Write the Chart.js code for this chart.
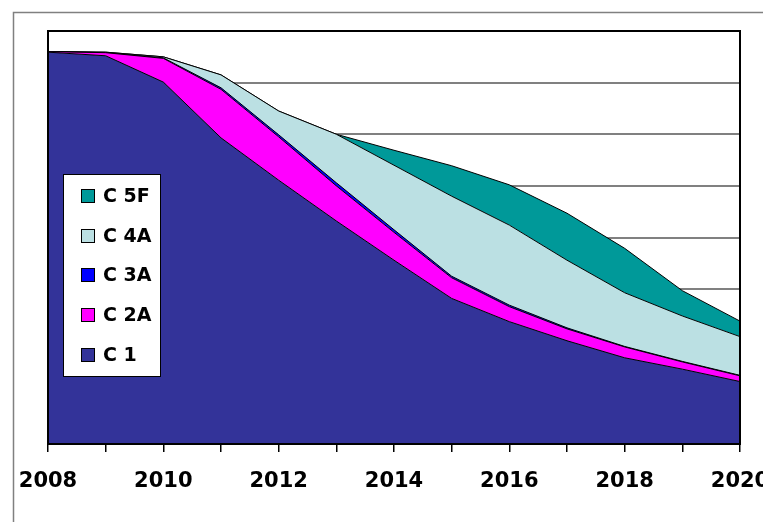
<!DOCTYPE html>
<html>
<head>
<meta charset="utf-8">
<script src="https://cdn.jsdelivr.net/npm/chart.js@4"></script>
<style>
  body { margin: 0; background: #fff; overflow: hidden; }
</style>
</head>
<body>
<canvas id="area" width="763" height="522"></canvas>
<script>
var years = ['2008', '2009', '2010', '2011', '2012', '2013', '2014', '2015', '2016', '2017', '2018', '2019', '2020'];

var c1  = [75.9, 75.2, 70.1, 59.3, 51.1, 43.2, 35.6, 28.2, 23.7, 20.0, 16.7, 14.5, 12.1];
var c2a = [0.1, 0.6, 4.6, 9.4, 8.4, 6.8, 5.4, 4.0, 2.9, 2.3, 2.1, 1.4, 1.1];
var c3a = [0.0, 0.0, 0.1, 0.3, 0.4, 0.6, 0.5, 0.3, 0.3, 0.2, 0.1, 0.1, 0.1];
var c4a = [0.0, 0.1, 0.2, 2.5, 4.6, 9.4, 12.5, 15.5, 15.5, 13.1, 10.4, 8.8, 7.5];
var c5f = [0.0, 0.0, 0.0, 0.0, 0.0, 0.0, 2.9, 5.9, 7.8, 9.1, 8.6, 4.9, 3.0];

var seriesNames = ['C 1', 'C 2A', 'C 3A', 'C 4A', 'C 5F'];
var seriesColors = ['#333399', '#ff00ff', '#0000ff', '#bbe0e3', '#009999'];
var seriesData = [c1, c2a, c3a, c4a, c5f];

var datasets = seriesData.map(function (d, i) {
    return {
        label: seriesNames[i],
        data: d,
        backgroundColor: seriesColors[i],
        borderColor: '#000',
        borderWidth: 1,
        pointRadius: 0,
        tension: 0,
        fill: i === 0 ? 'origin' : '-1'
    };
});

// grey outer frame of the chart object
var frame = {
    id: 'frame',
    beforeDraw: function (chart) {
        var ctx = chart.ctx;
        ctx.save();
        ctx.strokeStyle = '#808080';
        ctx.lineWidth = 1.5;
        ctx.strokeRect(13.5, 12.5, 900, 900);
        ctx.restore();
    },
    afterDatasetsDraw: function (chart) {
        var a = chart.chartArea, ctx = chart.ctx;
        ctx.save();
        ctx.strokeStyle = '#000';
        ctx.lineWidth = 2;
        ctx.strokeRect(a.left, a.top, a.right - a.left, a.bottom - a.top);
        ctx.restore();
    }
};

// legend box inside the plot
var boxLegend = {
    id: 'boxLegend',
    afterDraw: function (chart) {
        var ctx = chart.ctx;
        var ds = chart.data.datasets;
        ctx.save();
        ctx.fillStyle = '#fff';
        ctx.fillRect(63.5, 174.5, 97, 202);
        ctx.strokeStyle = '#000';
        ctx.lineWidth = 1;
        ctx.strokeRect(63.5, 174.5, 97, 202);
        ctx.font = 'bold 19px "DejaVu Sans"';
        ctx.textBaseline = 'middle';
        for (var k = 0; k < ds.length; k++) {
            var d = ds[ds.length - 1 - k];
            var y = 196 + k * 39.7;
            ctx.fillStyle = d.backgroundColor;
            ctx.fillRect(81.5, Math.round(y) - 6.5, 13, 13);
            ctx.strokeRect(81.5, Math.round(y) - 6.5, 13, 13);
            ctx.fillStyle = '#000';
            ctx.fillText(d.label, 103, y + 1);
        }
        ctx.restore();
    }
};

new Chart(document.getElementById('area'), {
    type: 'line',
    data: { labels: years, datasets: datasets },
    options: {
        responsive: false,
        animation: false,
        layout: { padding: { left: 48, right: 23, top: 31, bottom: 0 } },
        plugins: { legend: { display: false }, tooltip: { enabled: false } },
        scales: {
            x: {
                offset: false,
                grid: { drawOnChartArea: false, drawTicks: true, tickLength: 8, color: '#000', lineWidth: 1.5 },
                border: { display: true, color: '#000', width: 2 },
                ticks: {
                    autoSkip: false,
                    maxRotation: 0,
                    padding: 17,
                    color: '#000',
                    font: { family: 'DejaVu Sans', size: 21, weight: 'bold' },
                    callback: function (v, i) { return i % 2 === 0 ? years[i] : ''; }
                },
                afterFit: function (s) { s.paddingLeft = 0; s.paddingRight = 0; s.height = 78; }
            },
            y: {
                stacked: true,
                min: 0,
                max: 80,
                ticks: { display: false, stepSize: 10 },
                grid: { color: '#808080', lineWidth: 2, drawTicks: false },
                border: { display: false },
                afterFit: function (s) { s.width = 0; }
            }
        }
    },
    plugins: [frame, boxLegend]
});
</script>
</body>
</html>
